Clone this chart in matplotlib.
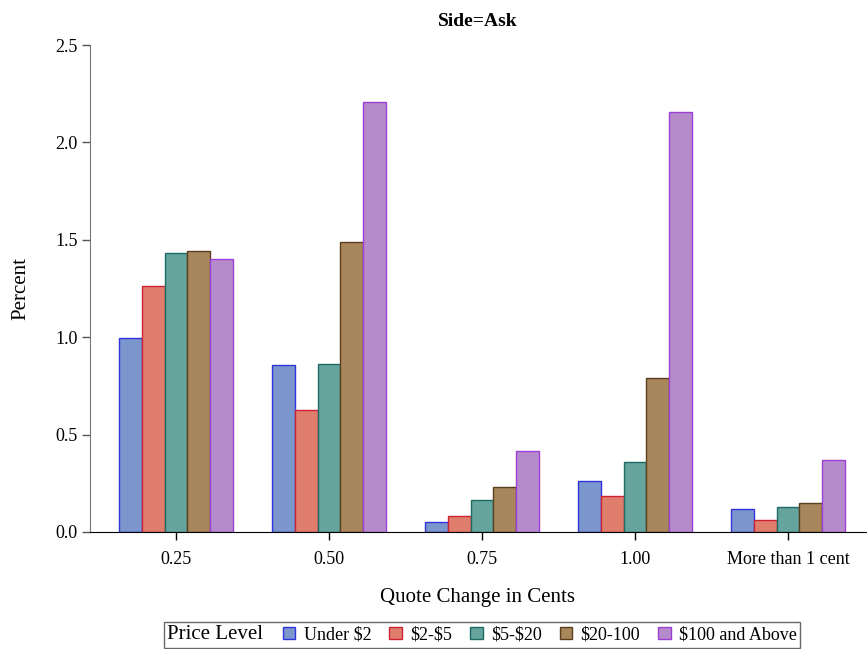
import matplotlib
matplotlib.use("Agg")
import matplotlib.pyplot as plt
from matplotlib.patches import Patch
from matplotlib.offsetbox import HPacker
import numpy as np

plt.rcParams['font.family'] = ['Liberation Serif', 'DejaVu Serif']

categories = ["0.25", "0.50", "0.75", "1.00", "More than 1 cent"]
series_names = ["Under $2", "$2-$5", "$5-$20", "$20-100", "$100 and Above"]
under2 = [0.995, 0.855, 0.05, 0.26, 0.117]
s2_5 = [1.265, 0.628, 0.08, 0.185, 0.06]
s5_20 = [1.43, 0.86, 0.165, 0.357, 0.127]
s20_100 = [1.445, 1.49, 0.23, 0.792, 0.148]
s100up = [1.40, 2.207, 0.417, 2.155, 0.37]
values = [under2, s2_5, s5_20, s20_100, s100up]

faces = ["#7B96CC", "#E07E6E", "#66A59E", "#A9875C", "#B68BCB"]
edges = ["#3333DD", "#CC2233", "#1E6B64", "#5A3F1E", "#9B3FD6"]

fig = plt.figure(figsize=(8.67, 6.49), dpi=100)
ax = fig.add_axes([90/867, 1-532/649, (866-90)/867, (532-45)/649])

x = np.arange(len(categories))
w = 0.148
for i, (vals, fc, ec) in enumerate(zip(values, faces, edges)):
    ax.bar(x + (i-2)*w, vals, width=w, color=fc, edgecolor=ec, linewidth=1.0)

ax.set_xlim(-0.562, 4.51)
ax.set_ylim(0, 2.5)
ax.set_yticks([0, 0.5, 1.0, 1.5, 2.0, 2.5])
ax.set_yticklabels(["0.0", "0.5", "1.0", "1.5", "2.0", "2.5"])
ax.set_xticks(x)
ax.set_xticklabels(categories)
ax.tick_params(axis='both', direction='out', length=6, width=1, labelsize=13)
ax.tick_params(axis='y', colors='#555555', labelcolor='black', pad=3)
ax.tick_params(axis='x', pad=8)
for s in ['top', 'right']:
    ax.spines[s].set_visible(False)
ax.spines['left'].set_color('#777777')
ax.spines['bottom'].set_color('black')
ax.set_ylabel("Percent", fontsize=15, labelpad=18)
ax.set_xlabel("Quote Change in Cents", fontsize=15, labelpad=14)
ax.set_title("Side=Ask", fontsize=14, fontweight='bold', pad=14)

esc = [s.replace('$', r'\$') for s in series_names]
handles = [Patch(facecolor=fc, edgecolor=ec, linewidth=1.0) for fc, ec in zip(faces, edges)]
leg = fig.legend(handles, esc, loc='lower center', bbox_to_anchor=(482/867, 1/649),
                 ncol=5, fontsize=13, frameon=True, fancybox=False, edgecolor='#444444',
                 handlelength=0.7, handleheight=0.7, handletextpad=0.45, columnspacing=1.0,
                 borderpad=0.2, borderaxespad=0)
leg.get_frame().set_linewidth(1.0)
leg.set_title("Price Level", prop={'size': 15})
try:
    box = HPacker(pad=leg._legend_box.pad, sep=14,
                  align='center',
                  children=[leg._legend_title_box, leg._legend_handle_box])
    box.set_figure(fig)
    leg._legend_box = box
    leg._loc = leg._loc
except Exception:
    pass

fig.savefig("out.png", dpi=100)
